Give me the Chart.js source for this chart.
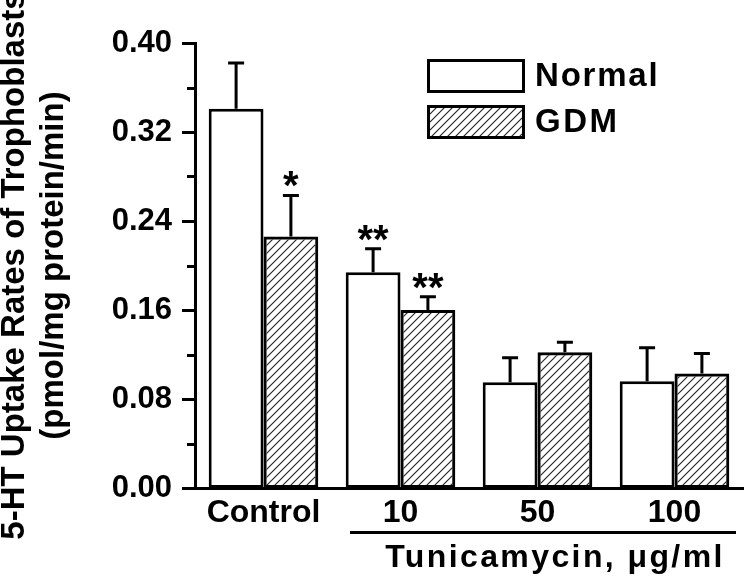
<!DOCTYPE html>
<html>
<head>
<meta charset="utf-8">
<script src="https://cdn.jsdelivr.net/npm/chart.js@4/dist/chart.umd.min.js"></script>
<style>
  html, body { margin: 0; padding: 0; background: #fff; }
  #chart { display: block; }
</style>
</head>
<body>
<canvas id="chart" width="747" height="578"></canvas>
<script>
// data
const categories = ['Control', '10', '50', '100'];
const normalValues = [0.341, 0.194, 0.095, 0.096];
const normalErrors = [0.041, 0.021, 0.022, 0.030];
const gdmValues = [0.226, 0.160, 0.122, 0.103];
const gdmErrors = [0.037, 0.012, 0.009, 0.018];
const normalMarks = ['', '**', '', ''];
const gdmMarks = ['*', '**', '', ''];
const yTickLabels = ['0.00', '0.08', '0.16', '0.24', '0.32', '0.40'];
const seriesNames = ['Normal', 'GDM'];
const xTitle = 'Tunicamycin, μg/ml';
const yTitle = ['5-HT Uptake Rates of Trophoblasts', '(pmol/mg protein/min)'];

const FONT = "'Liberation Sans', Arial, sans-serif";

// diagonal hatch used for the GDM bars
function makeHatch() {
    const c = document.createElement('canvas');
    c.width = 8; c.height = 8;
    const g = c.getContext('2d');
    g.strokeStyle = '#222';
    g.lineWidth = 1.1;
    g.beginPath();
    g.moveTo(0, 8); g.lineTo(8, 0);
    g.moveTo(-2, 2); g.lineTo(2, -2);
    g.moveTo(6, 10); g.lineTo(10, 6);
    g.stroke();
    return g.createPattern(c, 'repeat');
}
const ctx = document.getElementById('chart').getContext('2d');
const hatch = makeHatch();

// error bars, significance stars, ticks, legend and the bracket label
const extras = {
    id: 'extras',
    afterDatasetsDraw(chart) {
        const c = chart.ctx;
        const y = chart.scales.y;
        const sets = [[normalValues, normalErrors, normalMarks], [gdmValues, gdmErrors, gdmMarks]];
        c.save();
        c.strokeStyle = '#000';
        c.fillStyle = '#000';
        c.lineWidth = 3;
        sets.forEach((s, di) => {
            const meta = chart.getDatasetMeta(di);
            meta.data.forEach((bar, i) => {
                const x = bar.x;
                const top = y.getPixelForValue(s[0][i]);
                const end = y.getPixelForValue(s[0][i] + s[1][i]);
                c.beginPath();
                c.moveTo(x, top); c.lineTo(x, end);
                c.moveTo(x - 8, end); c.lineTo(x + 8, end);
                c.stroke();
                if (s[2][i]) {
                    c.font = 'bold 40px ' + FONT;
                    c.textAlign = 'center';
                    c.textBaseline = 'alphabetic';
                    c.fillText(s[2][i], x, end + 4);
                }
            });
        });
        c.restore();
    },
    afterDraw(chart) {
        const c = chart.ctx;
        const y = chart.scales.y;
        const area = chart.chartArea;
        c.save();
        c.strokeStyle = '#000';
        c.fillStyle = '#000';
        c.lineWidth = 3;
        // tick marks, long for labelled ones
        y.ticks.forEach((t, i) => {
            const py = Math.round(y.getPixelForValue(t.value)) + 0.5;
            const len = i % 2 === 0 ? 13 : 8;
            c.beginPath();
            c.moveTo(area.left - len, py); c.lineTo(area.left, py);
            c.stroke();
        });
        // legend
        const boxes = [[427, 59], [427, 105]];
        const spacing = ['1.8px', '2.5px'];
        boxes.forEach((b, i) => {
            c.fillStyle = i === 0 ? '#fff' : hatch;
            c.fillRect(b[0], b[1], 98, 34);
            c.strokeRect(b[0] + 1.5, b[1] + 1.5, 95, 31);
            c.fillStyle = '#000';
            c.font = 'bold 33px ' + FONT;
            c.letterSpacing = spacing[i];
            c.textAlign = 'left';
            c.textBaseline = 'middle';
            c.fillText(seriesNames[i], 535, b[1] + 18);
        });
        // bracket under the tunicamycin groups
        c.lineWidth = 3;
        c.beginPath();
        c.moveTo(350, 532.5); c.lineTo(736, 532.5);
        c.stroke();
        c.font = 'bold 32px ' + FONT;
        c.letterSpacing = '2.4px';
        c.textAlign = 'center';
        c.textBaseline = 'middle';
        c.fillText(xTitle, 555, 558);
        c.restore();
    }
};

new Chart(ctx, {
    type: 'bar',
    data: {
        labels: categories,
        datasets: [{
            label: seriesNames[0],
            data: normalValues,
            backgroundColor: '#fff',
            borderColor: '#000',
            borderWidth: 3,
            borderSkipped: false
        }, {
            label: seriesNames[1],
            data: gdmValues,
            backgroundColor: hatch,
            borderColor: '#000',
            borderWidth: 3,
            borderSkipped: false
        }]
    },
    options: {
        responsive: false,
        animation: false,
        layout: { padding: { top: 43, right: 4, bottom: 0, left: 0 } },
        categoryPercentage: 0.8,
        barPercentage: 1.0,
        plugins: {
            legend: { display: false },
            tooltip: { enabled: false }
        },
        scales: {
            x: {
                grid: { display: false, drawTicks: false },
                border: { color: '#000', width: 3 },
                ticks: {
                    color: '#000',
                    padding: 6,
                    font: { family: FONT, size: 32, weight: 'bold' }
                },
                afterFit(s) { s.height = 90; }
            },
            y: {
                min: 0,
                max: 0.4,
                grid: { display: false, drawTicks: false },
                border: { color: '#000', width: 3 },
                ticks: {
                    stepSize: 0.04,
                    color: '#000',
                    padding: 23,
                    font: { family: FONT, size: 31, weight: 'bold' },
                    callback: (v, i) => (i % 2 === 0 ? yTickLabels[i / 2] : '')
                },
                title: {
                    display: true,
                    text: yTitle,
                    color: '#000',
                    padding: { top: -5, bottom: 0 },
                    font: { family: FONT, size: 33, weight: 'bold', lineHeight: 1.2 }
                },
                afterFit(s) { s.width = 195; }
            }
        }
    },
    plugins: [extras]
});
</script>
</body>
</html>
